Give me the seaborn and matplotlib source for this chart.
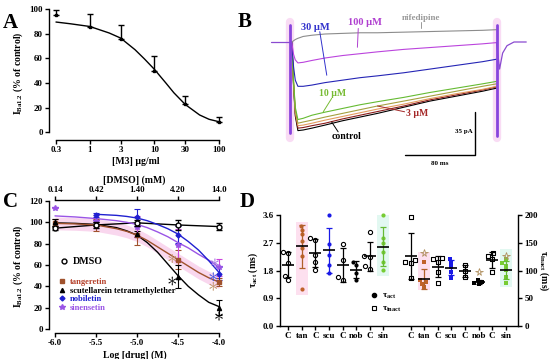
# Importing Libraries
import numpy as np
import pandas as pd
import matplotlib
matplotlib.use("Agg")
import matplotlib.pyplot as plt
import seaborn as sns
from matplotlib.lines import Line2D
from matplotlib.ticker import NullLocator

# ---------------- data ----------------
# A: M3 concentration-response
a_conc = [0.3, 1, 3, 10, 30, 100]
a_mean = [95.5, 85, 75.5, 50, 23, 8.5]
a_err = [4, 11, 11.5, 12, 6.5, 3.5]
a_ticklabels = ['0.3', '1', '3', '10', '30', '100']
a_fit_x = [0.3, 0.5, 1, 2, 3, 5, 7, 10, 15, 20, 30, 50, 70, 100]
a_fit_y = [89.4, 88, 85.8, 80.5, 76.4, 67, 59.5, 51, 40, 32, 22.5, 14, 10.5, 8.5]

# B: current traces (ms, pA)
b_t = [2, 4, 6, 9, 15, 25, 40, 60, 80, 100, 130, 160, 190, 220, 236]
b_control = [0, -35, -60, -72, -71.5, -70, -67.5, -64, -61, -58, -53, -48, -44, -40, -37.5]
b_3um = [0, -34, -58, -70, -69.5, -68, -66, -62.5, -59.5, -56.5, -52, -47, -43, -39, -36.5]
b_1um = [0, -33, -57, -68, -67.5, -66, -63.5, -60.5, -57.5, -54.5, -50.5, -46, -42, -38.5, -36]
b_03um = [0, -32, -55, -66, -65, -63.5, -61, -58, -55, -52, -48, -44, -40, -36, -34]
b_10um = [0, -31, -53, -63, -62, -59.5, -57, -54, -51, -48.5, -45, -41, -37.5, -34, -32]
b_30um = [0, -20, -31, -36, -36, -35, -33, -31, -29, -27.5, -25, -22, -19, -16, -14]
b_100um = [0, -10, -14.5, -17, -16.5, -15, -13, -11, -9.5, -8, -6, -4.5, -3, -1.5, -0.5]
b_nif = [0, 1, 2, 3, 4.5, 5.5, 6.5, 7, 7.5, 7.5, 8, 8.5, 9, 9.5, 10]
b_pre_t = [-22, -0.5]
b_pre_i = [0, 0]
b_post_t = [239.5, 243, 248, 256, 270]
b_post_i = [-22, -9, -3, 0, 0]
b_spike_t = [0, 237]
b_spike_top = [14, 14]
b_spike_bot = [-74, -76]
b_bar_ms, b_bar_pa = 80, 35

# C: flavonoids vs DMSO
c_logx = [-6.0, -5.5, -5.0, -4.5, -4.0]
c_dmso_mm = ['0.14', '0.42', '1.40', '4.20', '14.0']
c_dmso = [94.5, 97.5, 99.5, 97.5, 96]
c_dmso_err = [2, 3, 3, 5, 3]
c_tan = [99.5, 97.5, 88, 65, 44]
c_tan_err = [4, 6, 9, 9, 4]
c_scu = [100, 98.5, 89, 49, 20]
c_scu_err = [3, 2, 3, 11, 7]
c_nob = [np.nan, 107, 104.5, 88.5, 52]
c_nob_err = [0, 2, 8, 8, 6]
c_sin = [113, 101, 96, 79, 58]
c_sin_err = [0, 6, 10, 15, 8]
c_fit_x = [-6, -5.75, -5.5, -5.25, -5.125, -5, -4.875, -4.75, -4.625, -4.5, -4.375, -4.25, -4.125, -4]
c_fit_tan = [99, 98.5, 97.5, 94, 91.5, 88, 83, 77, 71, 65, 59, 53, 48, 44]
c_fit_scu = [99.5, 99, 98, 95, 92, 88, 81, 72, 61, 50, 40, 32, 25, 21]
c_fit_nob = [np.nan, np.nan, 107.5, 106.5, 105.5, 104, 101.5, 98, 94, 89, 82, 74, 64, 53]
c_fit_sin = [106, 105, 103.5, 101.5, 100, 98, 95, 91, 86.5, 81, 76, 70, 64.5, 58]
c_star_x = [-4.57, -4.57, -4.05, -4.07, -4.07, -4.0]
c_star_y = [66, 45, 62, 49, 40, 12]

# D: activation / inactivation time constants
d_labels = ['C', 'tan', 'C', 'scu', 'C', 'nob', 'C', 'sin'] * 2
d_pos = list(range(8)) + list(range(9, 17))
d_act = [[2.41, 2.36, 2.04, 1.63, 1.50],
         [3.25, 3.12, 2.97, 2.75, 2.53, 2.26, 1.20],
         [2.87, 2.79, 2.31, 2.09, 1.82],
         [3.60, 2.67, 2.31, 1.99, 1.72],
         [2.67, 2.13, 1.60, 1.50],
         [2.09, 1.99, 1.72, 1.50],
         [3.04, 2.28, 2.24, 1.93, 1.85],
         [3.60, 2.85, 2.69, 2.41, 2.09, 1.82]]
d_inact = [[197, 119, 116, 113, 86],
           [116, 83, 79, 76, 70],
           [122, 121, 116, 98, 77],
           [121, 114, 106, 98, 86],
           [110, 100, 89],
           [83, 80, 77, 75],
           [131, 127, 121, 98],
           [120, 114, 109, 101, 89, 77]]
d_star_pos = [10, 14, 16]
d_star_val = [131, 98, 127]

# ---------------- styling ----------------
sns.set_theme(style="ticks")
plt.rcParams['font.family'] = ['Liberation Serif', 'DejaVu Serif']
plt.rcParams.update({
    'font.weight': 'bold', 'axes.labelweight': 'bold', 'font.size': 6.5,
    'mathtext.fontset': 'custom', 'mathtext.rm': 'Liberation Serif:bold',
    'mathtext.it': 'Liberation Serif:italic:bold', 'mathtext.bf': 'Liberation Serif:bold',
    'axes.edgecolor': 'black', 'text.color': 'black', 'axes.labelcolor': 'black',
    'xtick.color': 'black', 'ytick.color': 'black',
    'axes.linewidth': 1.0, 'xtick.major.width': 1.0, 'ytick.major.width': 1.0,
    'xtick.major.size': 3, 'ytick.major.size': 3,
    'xtick.labelsize': 6.5, 'ytick.labelsize': 6.5,
    'xtick.major.pad': 1.5, 'ytick.major.pad': 1.5,
})

W, H = 550, 359
fig = plt.figure(figsize=(W / 100, H / 100), dpi=100)


def px_axes(l, t, r, b):
    return fig.add_axes([l / W, 1 - b / H, (r - l) / W, (b - t) / H])


TAN, NOB, SIN = '#a0522d', '#2020d0', '#9a55e6'
ylab = r'I$_{\rm Ba1.2}$ (% of control)'

# ---------------- panel A ----------------
axA = px_axes(49, 7, 222, 140)
axA.set_xscale('log')
sns.lineplot(x=a_fit_x, y=a_fit_y, ax=axA, color='black', lw=1.0)
axA.errorbar(a_conc, a_mean, yerr=[np.zeros(len(a_err)), a_err], fmt='s', ms=2,
             color='black', capsize=2, elinewidth=1, capthick=1, clip_on=False)
axA.set_xlim(0.234, 111)
axA.set_ylim(-6.3, 101.6)
axA.set_xticks(a_conc)
axA.set_xticklabels(a_ticklabels)
axA.xaxis.set_minor_locator(NullLocator())
axA.set_yticks([0, 20, 40, 60, 80, 100])
sns.despine(ax=axA)
axA.spines['left'].set_bounds(0, 100)
axA.spines['bottom'].set_bounds(0.3, 100)
axA.set_xlabel('[M3] µg/ml', fontsize=7, labelpad=2)
axA.set_ylabel(ylab, fontsize=7, labelpad=3)

# ---------------- panel B ----------------
axB = px_axes(265, 10, 535, 170)
axB.set_xlim(-28.6, 280)
axB.set_ylim(-104, 26)
axB.axis('off')
for tt in b_spike_t:
    sns.lineplot(x=[tt, tt], y=[16, -78], ax=axB, color='#f9dcf4', lw=6,
                 sort=False, estimator=None)
traces = [(b_control, 'black'), (b_3um, '#8b1c1c'), (b_1um, '#e39b5f'),
          (b_03um, '#a5a040'), (b_10um, '#66bb33'), (b_30um, '#2525b5'),
          (b_100um, '#bb44dd'), (b_nif, '#8c8c8c')]
for vals, col in traces:
    sns.lineplot(x=b_t, y=vals, ax=axB, color=col, lw=0.8, sort=False, estimator=None)
sns.lineplot(x=b_pre_t, y=b_pre_i, ax=axB, color='#8a4ad0', lw=0.9, sort=False, estimator=None)
sns.lineplot(x=[b_t[-1]] + b_post_t, y=[b_100um[-1]] + b_post_i, ax=axB, color='#8a4ad0',
             lw=0.9, sort=False, estimator=None)
for tt, top, bot in zip(b_spike_t, b_spike_top, b_spike_bot):
    sns.lineplot(x=[tt, tt], y=[top, bot], ax=axB, color='#8844dd', lw=2,
                 sort=False, estimator=None)
# labels and pointers
b_text = [('30 µM', 28.6, 12, '#3333cc', 7.5, (34, 8.4, 42, -27)),
          ('100 µM', 86, 15.5, '#b040d0', 7.5, (78, 11, 77, -4.3)),
          ('nifedipine', 150, 19.5, '#999999', 6.5, (150, 16.5, 150, 11)),
          ('10 µM', 49, -41.5, '#77bb33', 7, (47.6, -45.8, 38, -56.7)),
          ('3 µM', 145, -58, '#a52a2a', 7, (131, -56.7, 100, -52)),
          ('control', 64, -77, 'black', 7, (55, -73, 47.6, -65))]
for txt, tx, ty, col, fs, (x0, y0, x1, y1) in b_text:
    axB.text(tx, ty, txt, color=col, fontsize=fs, ha='center', va='center')
    axB.plot([x0, x1], [y0, y1], color=col, lw=0.7)
corner_t, corner_i = 211.4, -92
axB.plot([corner_t, corner_t, corner_t - b_bar_ms], [corner_i + b_bar_pa, corner_i, corner_i],
         color='black', lw=1)
axB.text(corner_t - 3, corner_i + b_bar_pa / 2 + 2, '35 pA', fontsize=5, ha='right', va='center')
axB.text(corner_t - b_bar_ms / 2, corner_i - 6.5, '80 ms', fontsize=5, ha='center', va='center')

# ---------------- panel C ----------------
axC = px_axes(49, 200, 220, 333)
axC.fill_between(c_fit_x, np.array(c_fit_tan) - 6, np.array(c_fit_tan) + 6,
                 color='#f9d7ee', lw=0, zorder=0)
sns.lineplot(x=c_logx, y=c_dmso, ax=axC, color='black', lw=1)
sns.lineplot(x=c_fit_x, y=c_fit_scu, ax=axC, color='black', lw=1)
sns.lineplot(x=c_fit_x, y=c_fit_tan, ax=axC, color=TAN, lw=1)
sns.lineplot(x=c_fit_x, y=c_fit_sin, ax=axC, color=SIN, lw=1)
sns.lineplot(x=c_fit_x, y=c_fit_nob, ax=axC, color=NOB, lw=1)
ekw = dict(capsize=2, elinewidth=0.8, capthick=0.8, clip_on=False, ls='none')
axC.errorbar(c_logx, c_tan, yerr=c_tan_err, fmt='s', ms=3, color=TAN, **ekw)
axC.errorbar(c_logx, c_scu, yerr=c_scu_err, fmt='^', ms=3, color='black', **ekw)
axC.errorbar(c_logx, c_sin, yerr=c_sin_err, fmt='*', ms=4, color=SIN, ecolor='#cc44dd', **ekw)
axC.errorbar(c_logx, c_nob, yerr=c_nob_err, fmt='D', ms=2.5, color=NOB, **ekw)
axC.errorbar(c_logx, c_dmso, yerr=c_dmso_err, fmt='o', ms=3.5, color='black', mfc='white',
             mew=1, zorder=5, **ekw)
star_cols = ['#c0936a', 'black', '#a070e0', '#4050e0', '#c0936a', 'black']
axC.scatter(c_star_x, c_star_y, marker=r'$\ast$', s=40, c=star_cols, lw=0, zorder=6, clip_on=False)
axC.set_xlim(-6.073, -3.988)
axC.set_ylim(-3.75, 120.9)
axC.set_xticks(c_logx)
axC.set_xticklabels(['-6.0', '-5.5', '-5.0', '-4.5', '-4.0'])
axC.set_yticks([0, 20, 40, 60, 80, 100, 120])
sns.despine(ax=axC)
axC.spines['left'].set_bounds(0, 120)
axC.spines['bottom'].set_bounds(-6, -4)
axC.set_xlabel('Log [drug] (M)', fontsize=7, labelpad=2)
axC.set_ylabel(ylab, fontsize=7, labelpad=3)
sec = axC.secondary_xaxis('top')
sec.set_xticks(c_logx)
sec.set_xticklabels(c_dmso_mm)
sec.spines['top'].set_bounds(-6, -4)
sec.set_xlabel('[DMSO] (mM)', fontsize=7, labelpad=2)

h_dmso = [Line2D([], [], marker='o', ls='none', mfc='white', mec='black', ms=3.5, mew=1)]
leg1 = axC.legend(h_dmso, ['DMSO'], loc='center left', bbox_to_anchor=(0.029, 0.534),
                  frameon=False, fontsize=7.2, handlelength=1.0, handletextpad=0.4, borderpad=0)
axC.add_artist(leg1)
h_drugs = [Line2D([], [], marker='s', ls='none', color=TAN, ms=3),
           Line2D([], [], marker='^', ls='none', color='black', ms=3),
           Line2D([], [], marker='D', ls='none', color=NOB, ms=2.5),
           Line2D([], [], marker='*', ls='none', color=SIN, ms=4)]
leg2 = axC.legend(h_drugs, ['tangeretin', 'scutellarein tetramethylether', 'nobiletin', 'sinensetin'],
                  loc='center left', bbox_to_anchor=(0.029, 0.286), frameon=False, fontsize=6.1,
                  handlelength=1.0, handletextpad=0.4, borderpad=0, labelspacing=0.1)
for txt, col in zip(leg2.get_texts(), ['#b5402a', 'black', NOB, SIN]):
    txt.set_color(col)

# ---------------- panel D ----------------
axD = px_axes(280, 215, 518, 326)
axD2 = axD.twinx()
d_colors = ['black', '#c0622a', 'black', '#1a1ae6', 'black', 'black', 'black', '#77cc33']
d_ecol = ['black', '#b0602a', 'black', '#1a1ae6', 'black', 'black', 'black', '#66bb33']
d_hl = {1: '#fde0ef', 7: '#e2f8f1'}
for k in range(16):
    grp, j = divmod(k, 8)
    ax = axD if grp == 0 else axD2
    vals = d_act[j] if grp == 0 else d_inact[j]
    p = d_pos[k]
    mk = 'o' if grp == 0 else 's'
    if j in d_hl:
        lo, hi = (0.2, 0.12) if grp == 0 else (6, 18)
        ax.fill_between([p - 0.45, p + 0.45], min(vals) - lo, max(vals) + hi,
                        color=d_hl[j], lw=0, zorder=0)
    df = pd.DataFrame({'pos': [p] * len(vals), 'val': vals})
    if j % 2 == 0:
        sns.swarmplot(data=df, x='pos', y='val', native_scale=True, orient='x', ax=ax,
                      marker=mk, size=3, color='white', edgecolor='black', linewidth=0.8,
                      clip_on=False)
    else:
        sns.swarmplot(data=df, x='pos', y='val', native_scale=True, orient='x', ax=ax,
                      marker=mk, size=3, color=d_colors[j], linewidth=0, clip_on=False)
    m, s = np.mean(vals), np.std(vals, ddof=1)
    ax.errorbar(p, m, yerr=s, fmt='none', ecolor=d_ecol[j], capsize=2.5,
                elinewidth=0.9, capthick=0.9, zorder=4)
    ax.plot(p, m, marker='_', ms=9, mew=1.2, color='black', zorder=5)
axD2.plot(d_star_pos, d_star_val, ls='none', marker='*', ms=5.5, mfc='none', mew=0.6,
          mec='#b09060', zorder=6)
axD.set_xlim(-0.6, 16.9)
axD.set_ylim(0, 3.6)
axD2.set_ylim(0, 200)
axD.set_xticks(d_pos)
axD.set_xticklabels(d_labels, fontsize=6.5)
axD.set_yticks([0, 0.9, 1.8, 2.7, 3.6])
axD.set_yticklabels(['0.0', '0.9', '1.8', '2.7', '3.6'])
axD2.set_yticks([0, 50, 100, 150, 200])
axD.set_xlabel('')
axD2.set_xlabel('')
axD.spines['top'].set_visible(False)
axD.spines['right'].set_visible(False)
axD2.spines['top'].set_visible(False)
axD2.spines['left'].set_visible(False)
axD2.spines['bottom'].set_visible(False)
axD.set_ylabel('τ$_{\\rm act}$ (ms)', fontsize=7, labelpad=2)
axD2.set_ylabel('τ$_{\\rm inact}$ (ms)', fontsize=7, rotation=270, labelpad=9)
h_tau = [Line2D([], [], marker='o', ls='none', color='black', ms=3),
         Line2D([], [], marker='s', ls='none', mfc='white', mec='black', ms=3, mew=0.8)]
axD2.legend(h_tau, ['τ$_{\\rm act}$', 'τ$_{\\rm inact}$'], loc='center left',
            bbox_to_anchor=(0.355, 0.207), frameon=False, fontsize=6.5, handlelength=1.0,
            handletextpad=0.4, borderpad=0, labelspacing=0.35)

# ---------------- panel letters ----------------
for lab, x, y in [('A', 3, 28), ('B', 238, 27), ('C', 3, 207), ('D', 240, 207)]:
    fig.text(x / W, 1 - y / H, lab, fontsize=15, fontweight='bold', ha='left', va='baseline')

fig.savefig('out.png', dpi=100)
